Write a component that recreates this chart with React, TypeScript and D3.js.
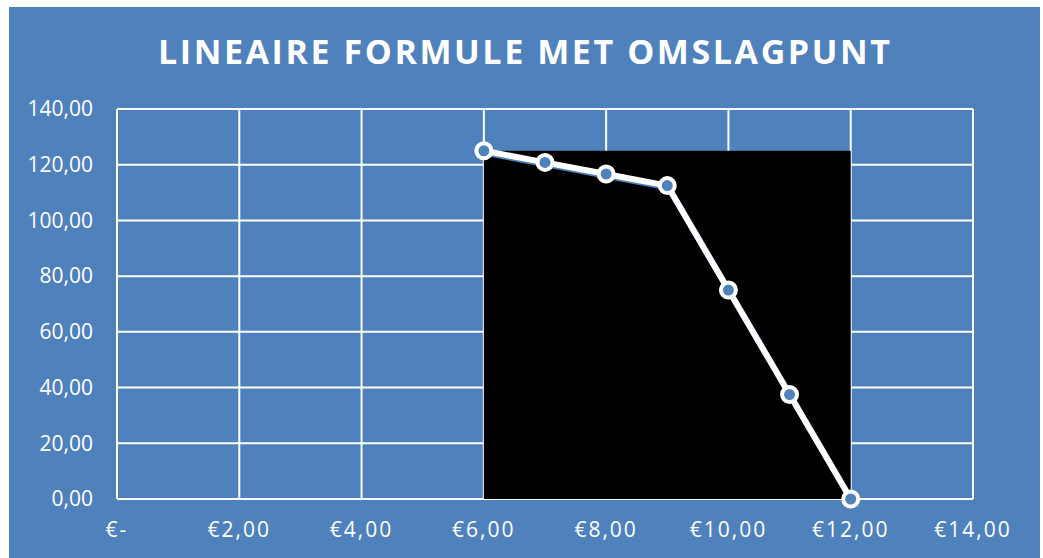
import * as d3 from 'd3';

// chart values
const prices = [6, 7, 8, 9, 10, 11, 12];
const quantities = [125, 120.83, 116.67, 112.5, 75, 37.5, 0];
const xTicks = [0, 2, 4, 6, 8, 10, 12, 14];
const yTicks = [0, 20, 40, 60, 80, 100, 120, 140];
const TITLE = 'LINEAIRE FORMULE MET OMSLAGPUNT';

const WIDTH = 1043;
const HEIGHT = 558;
const BLUE = '#4f81bd';
const PLOT = { left: 117, right: 973, top: 109, bottom: 499 };

const fmtNum = (v: number) => v.toFixed(2).replace('.', ',');
const fmtEuro = (v: number) => (v === 0 ? '€-' : `€${fmtNum(v)}`);

export default function App() {
  const x = d3.scaleLinear().domain([0, 14]).range([PLOT.left, PLOT.right]);
  const y = d3.scaleLinear().domain([0, 140]).range([PLOT.bottom, PLOT.top]);

  const pts = prices.map((p, i) => ({ p, q: quantities[i] }));
  const line = d3
    .line<{ p: number; q: number }>()
    .x((d) => x(d.p))
    .y((d) => y(d.q));
  const linePath = line(pts) ?? '';

  const pMin = d3.min(prices) ?? 0;
  const pMax = d3.max(prices) ?? 0;
  const qMax = d3.max(quantities) ?? 0;

  return (
    <svg
      width={WIDTH}
      height={HEIGHT}
      style={{ position: 'absolute', left: 0, top: 0, display: 'block' }}
      fontFamily="'Open Sans', sans-serif"
    >
      <rect x={0} y={0} width={WIDTH} height={HEIGHT} fill="#fff" />
      <rect x={9} y={7} width={1031} height={HEIGHT - 7} fill={BLUE} />

      {/* Title */}
      <text
        x={158}
        y={64}
        fill="#fff"
        fontSize={34}
        fontWeight={700}
        textLength={732}
        lengthAdjust="spacing"
      >
        {TITLE}
      </text>

      {/* Grid */}
      {yTicks.map((t) => (
        <line
          key={`h${t}`}
          x1={PLOT.left}
          x2={PLOT.right}
          y1={y(t)}
          y2={y(t)}
          stroke="#fff"
          strokeWidth={2}
        />
      ))}
      {xTicks.map((t) => (
        <line
          key={`v${t}`}
          x1={x(t)}
          x2={x(t)}
          y1={PLOT.top}
          y2={PLOT.bottom}
          stroke="#fff"
          strokeWidth={2}
        />
      ))}

      {/* Black block under the curve range */}
      <rect
        x={x(pMin)}
        y={y(qMax)}
        width={x(pMax) - x(pMin)}
        height={y(0) - y(qMax)}
        fill="#000"
      />

      {/* Y tick labels */}
      {yTicks.map((t) => (
        <text
          key={`yl${t}`}
          x={93}
          y={y(t)}
          dy="0.35em"
          textAnchor="end"
          fill="#fff"
          fontSize={21}
        >
          {fmtNum(t)}
        </text>
      ))}

      {/* X tick labels */}
      {xTicks.map((t) => (
        <text
          key={`xl${t}`}
          x={x(t)}
          y={537}
          textAnchor="middle"
          fill="#fff"
          fontSize={21}
          letterSpacing={2}
        >
          {fmtEuro(t)}
        </text>
      ))}

      {/* Line with shadow */}
      <path
        d={linePath}
        fill="none"
        stroke={BLUE}
        strokeWidth={6}
        transform="translate(1.5,2)"
        strokeLinejoin="round"
      />
      <path d={linePath} fill="none" stroke="#fff" strokeWidth={6} strokeLinejoin="round" />

      {/* Markers */}
      {pts.map((d) => (
        <circle
          key={`m${d.p}`}
          cx={x(d.p)}
          cy={y(d.q)}
          r={7.5}
          fill={BLUE}
          stroke="#fff"
          strokeWidth={4}
        />
      ))}
    </svg>
  );
}
